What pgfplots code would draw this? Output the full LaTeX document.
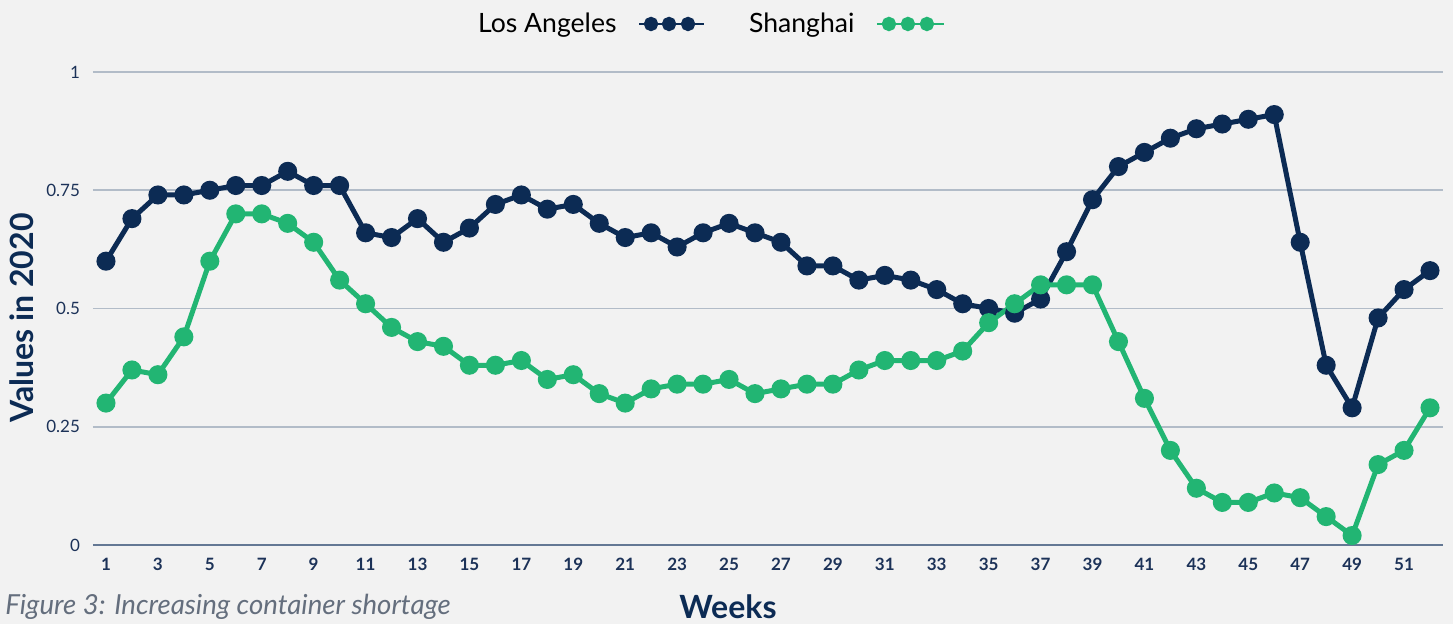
\documentclass[border=0pt]{standalone}
\usepackage{pgfplots}
\pgfplotsset{compat=1.18}
\usepackage{fontspec}
\setmainfont{Lato}
\definecolor{bg}{RGB}{242,242,242}
\definecolor{navy}{RGB}{12,43,84}
\definecolor{grn}{RGB}{34,181,115}
\definecolor{gridc}{RGB}{178,188,200}
\definecolor{axc}{RGB}{100,120,148}
\definecolor{tickc}{RGB}{28,50,88}
\definecolor{capc}{RGB}{100,110,125}
\begin{document}
\begin{tikzpicture}[x=1pt,y=1pt]
\fill[bg] (0,0) rectangle (726.5,312);
\begin{axis}[
  at={(46.5pt,39.5pt)}, anchor=south west,
  scale only axis, width=675pt, height=236.5pt,
  xmin=0.5, xmax=52.5, ymin=0, ymax=1,
  axis line style={draw=none},
  major tick length=0pt,
  xtick={1,3,...,51},
  ytick={0.25,0.5,0.75,1},
  extra y ticks={0},
  extra y tick style={grid style={axc, line width=1.3pt}},
  ymajorgrids,
  grid style={gridc, line width=0.9pt},
  /pgf/number format/assume math mode=true,
  yticklabel style={font=\fontsize{8.5}{10}\selectfont, text=tickc, xshift=-3pt},
  xticklabel style={font=\fontsize{8.5}{10}\selectfont\bfseries, text=tickc, yshift=-3pt},
  legend plot pos=right,
  legend columns=2,
  legend style={draw=none, fill=none, at={(0.4567,1.1015)}, anchor=center,
    font=\fontsize{13.3}{15}\selectfont, text=black,
    /tikz/every even column/.append style={column sep=20pt}},
  clip=false,
]
\addplot[navy, line width=2.5pt, mark=*, mark size=3.5pt, mark options={fill=navy, draw=navy},
  legend image code/.code={\path (0pt,0pt);
    \draw[navy, line width=1pt] (8pt,0pt) -- (40.5pt,0pt);
    \fill[navy] (14pt,0pt) circle (2.3pt); \fill[navy] (23pt,0pt) circle (2.3pt); \fill[navy] (32.5pt,0pt) circle (2.3pt);}]
coordinates {
(1,0.60)(2,0.69)(3,0.74)(4,0.74)(5,0.75)(6,0.76)(7,0.76)(8,0.79)(9,0.76)(10,0.76)
(11,0.66)(12,0.65)(13,0.69)(14,0.64)(15,0.67)(16,0.72)(17,0.74)(18,0.71)(19,0.72)(20,0.68)
(21,0.65)(22,0.66)(23,0.63)(24,0.66)(25,0.68)(26,0.66)(27,0.64)(28,0.59)(29,0.59)(30,0.56)
(31,0.57)(32,0.56)(33,0.54)(34,0.51)(35,0.50)(36,0.49)(37,0.52)(38,0.62)(39,0.73)(40,0.80)
(41,0.83)(42,0.86)(43,0.88)(44,0.89)(45,0.90)(46,0.91)(47,0.64)(48,0.38)(49,0.29)(50,0.48)
(51,0.54)(52,0.58)};
\addlegendentry{Los Angeles}
\addplot[grn, line width=2.5pt, mark=*, mark size=3.5pt, mark options={fill=grn, draw=grn},
  legend image code/.code={\path (0pt,0pt);
    \draw[grn, line width=1pt] (8pt,0pt) -- (41.5pt,0pt);
    \fill[grn] (14pt,0pt) circle (2.3pt); \fill[grn] (23.5pt,0pt) circle (2.3pt); \fill[grn] (33pt,0pt) circle (2.3pt);}]
coordinates {
(1,0.30)(2,0.37)(3,0.36)(4,0.44)(5,0.60)(6,0.70)(7,0.70)(8,0.68)(9,0.64)(10,0.56)
(11,0.51)(12,0.46)(13,0.43)(14,0.42)(15,0.38)(16,0.38)(17,0.39)(18,0.35)(19,0.36)(20,0.32)
(21,0.30)(22,0.33)(23,0.34)(24,0.34)(25,0.35)(26,0.32)(27,0.33)(28,0.34)(29,0.34)(30,0.37)
(31,0.39)(32,0.39)(33,0.39)(34,0.41)(35,0.47)(36,0.51)(37,0.55)(38,0.55)(39,0.55)(40,0.43)
(41,0.31)(42,0.20)(43,0.12)(44,0.09)(45,0.09)(46,0.11)(47,0.10)(48,0.06)(49,0.02)(50,0.17)
(51,0.20)(52,0.29)};
\addlegendentry{Shanghai}
\end{axis}
\node[rotate=90, font=\fontsize{16}{18}\selectfont\bfseries, text=navy] at (11,153) {Values in 2020};
\node[font=\fontsize{16}{18}\selectfont\bfseries, text=navy] at (364,8.5) {Weeks};
\node[anchor=base west, inner sep=0pt, font=\fontsize{13.8}{15}\selectfont\itshape, text=capc] at (2.5,4.5) {Figure 3: Increasing container shortage};
\end{tikzpicture}
\end{document}
